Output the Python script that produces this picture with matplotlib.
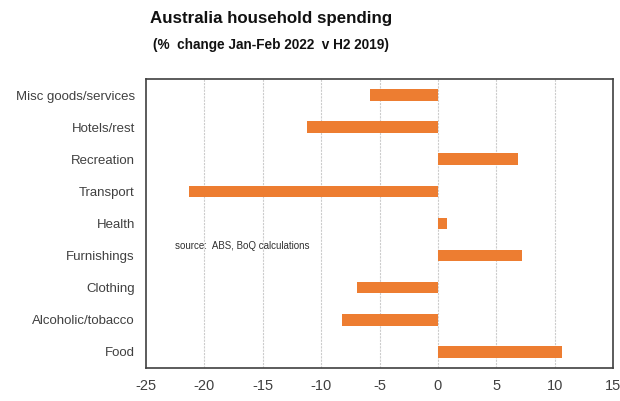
import matplotlib
matplotlib.use("Agg")
import matplotlib.pyplot as plt
from matplotlib import font_manager

categories = ["Food", "Alcoholic/tobacco", "Clothing", "Furnishings", "Health",
              "Transport", "Recreation", "Hotels/rest", "Misc goods/services"]
values = [10.6, -8.2, -6.9, 7.2, 0.8, -21.3, 6.9, -11.2, -5.8]
xticks = [-25, -20, -15, -10, -5, 0, 5, 10, 15]

names = {f.name for f in font_manager.fontManager.ttflist}
narrow = "Liberation Sans Narrow" if "Liberation Sans Narrow" in names else "Liberation Sans"
plt.rcParams['font.family'] = ['Liberation Sans', 'DejaVu Sans']

fig = plt.figure(figsize=(6.2, 4.01), dpi=100)
ax = fig.add_axes([0.2355, 0.0823, 0.7532, 0.7207])

ypos = list(range(len(categories)))
ax.barh(ypos, values, height=0.36, color="#ED7D31", zorder=3)
ax.set_xlim(-25, 15)
ax.set_ylim(-0.5, len(categories) - 0.5)
ax.set_xticks(xticks)
ax.set_xticklabels([str(t) for t in xticks], fontsize=10.5, color="#404040")
ax.set_yticks(ypos)
ax.set_yticklabels(categories, fontsize=9.5, color="#404040")
ax.tick_params(length=0, pad=8)
ax.tick_params(axis='y', pad=8)
for t in xticks[1:-1]:
    ax.axvline(t, color="#cccccc", lw=0.8, ls=(0, (2, 1)), zorder=1)
for s in ax.spines.values():
    s.set_color("#404040")
    s.set_linewidth(1.2)

ax.text(-22.5, 3.3, "source:  ABS, BoQ calculations", fontsize=7, color="#303030",
        va="center", ha="left")

fig.text(0.437, 0.955, "Australia household spending", fontsize=12.2, fontweight="bold",
         family=[narrow, 'DejaVu Sans'], ha="center", va="center", color="#111111")
fig.text(0.437, 0.888, "(%  change Jan-Feb 2022  v H2 2019)", fontsize=9.8, fontweight="bold",
         family=[narrow, 'DejaVu Sans'], ha="center", va="center", color="#111111")

fig.savefig("out.png", dpi=100)
